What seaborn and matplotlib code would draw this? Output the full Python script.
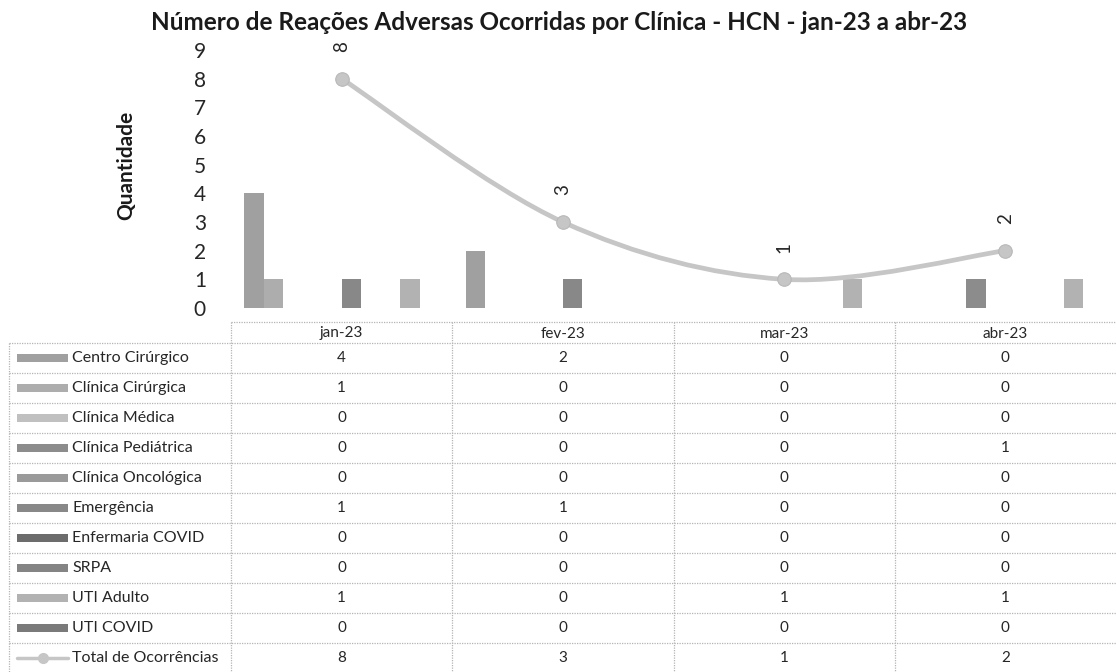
import numpy as np
import pandas as pd
import matplotlib
matplotlib.use("Agg")
import matplotlib.pyplot as plt
from matplotlib.path import Path
from matplotlib.patches import PathPatch, Rectangle
from matplotlib.lines import Line2D
import seaborn as sns

meses = ["jan-23", "fev-23", "mar-23", "abr-23"]
clinicas = ["Centro Cirúrgico", "Clínica Cirúrgica", "Clínica Médica",
            "Clínica Pediátrica", "Clínica Oncológica", "Emergência",
            "Enfermaria COVID", "SRPA", "UTI Adulto", "UTI COVID"]
centro_cirurgico = [4, 2, 0, 0]
clinica_cirurgica = [1, 0, 0, 0]
clinica_medica = [0, 0, 0, 0]
clinica_pediatrica = [0, 0, 0, 1]
clinica_oncologica = [0, 0, 0, 0]
emergencia = [1, 1, 0, 0]
enfermaria_covid = [0, 0, 0, 0]
srpa = [0, 0, 0, 0]
uti_adulto = [1, 0, 1, 1]
uti_covid = [0, 0, 0, 0]
total = [8, 3, 1, 2]
total_label = "Total de Ocorrências"

series = [centro_cirurgico, clinica_cirurgica, clinica_medica, clinica_pediatrica,
          clinica_oncologica, emergencia, enfermaria_covid, srpa, uti_adulto, uti_covid]

# grey shades of the scanned original
cores = ["#a0a0a0", "#adadad", "#c0c0c0", "#8c8c8c", "#9a9a9a",
         "#888888", "#6c6c6c", "#848484", "#b2b2b2", "#7a7a7a"]
cor_total = "#c6c6c6"
cor_borda = "#b4b4b4"
texto = "#262626"

sns.set_theme(style="white")
plt.rcParams["font.family"] = ["Lato", "DejaVu Sans"]

W, H = 1116, 672
fig = plt.figure(figsize=(W / 100, H / 100), dpi=100)

# layout in pixels
x_tab0 = 9          # left edge of the legend column
x_col0 = 231        # first month column
col_w = (W - x_col0) / len(meses)
y_head = 322        # top of header row
y_row0 = 343        # top of first data row
row_h = 30
y_zero, y_top = 308, 50

ax = fig.add_axes([x_col0 / W, 1 - y_zero / H, (W - x_col0) / W, (y_zero - y_top) / H])

df = pd.DataFrame({"mes": np.repeat(meses, len(clinicas)),
                   "clinica": clinicas * len(meses),
                   "valor": np.array(series).T.ravel()})
sns.barplot(data=df, x="mes", y="valor", hue="clinica", hue_order=clinicas,
            order=meses, palette=cores, width=0.88, gap=0, linewidth=0,
            legend=False, ax=ax, zorder=2)

# smoothed total line (bezier through the monthly totals)
xs = np.arange(len(meses), dtype=float)
pts = np.column_stack([xs, np.array(total, dtype=float)])
ext = np.vstack([pts[0], pts, pts[-1]])
verts, codes = [pts[0]], [Path.MOVETO]
for i in range(len(pts) - 1):
    p0, p1, p2, p3 = ext[i], ext[i + 1], ext[i + 2], ext[i + 3]
    verts += [p1 + (p2 - p0) / 6, p2 - (p3 - p1) / 6, p2]
    codes += [Path.CURVE4] * 3
ax.add_patch(PathPatch(Path(verts, codes), facecolor="none", edgecolor=cor_total,
                       lw=3.4, capstyle="round", zorder=3))
sns.scatterplot(x=xs, y=total, s=95, color=cor_total, edgecolor="#b8b8b8",
                linewidth=0.8, ax=ax, zorder=4, legend=False)
for x, v in zip(xs, total):
    ax.annotate(str(v), (x, v), xytext=(0, 23), textcoords="offset points",
                rotation=90, ha="center", va="center", fontsize=13.5, color=texto)

ax.set_xlim(-0.5, len(meses) - 0.5)
ax.set_ylim(0, 9)
ax.set_yticks(range(0, 10))
ax.tick_params(axis="y", labelsize=15, length=0, pad=18, labelcolor=texto)
ax.set_xticks([])
ax.set_xlabel("")
ax.set_ylabel("")
for s in ax.spines.values():
    s.set_visible(False)
ax.patch.set_alpha(0)

fig.text(559 / W, 1 - 23 / H, "Número de Reações Adversas Ocorridas por Clínica - HCN - jan-23 a abr-23",
         ha="center", va="center", fontsize=17.5, fontweight="bold", color="#1a1a1a")
fig.text(126 / W, 1 - 165 / H, "Quantidade", rotation=90, ha="center", va="center",
         fontsize=15, fontweight="bold", color="#1a1a1a")

# ---- data table below the plot ----
tab = fig.add_axes([0, 0, 1, 1], zorder=-1)
tab.set_xlim(0, W)
tab.set_ylim(H, 0)
tab.axis("off")
dot = dict(color=cor_borda, lw=0.9, linestyle=(0, (1, 1)))

n_rows = len(clinicas) + 1
y_bottom = y_row0 + n_rows * row_h
col_edges = [x_col0 + k * col_w for k in range(len(meses) + 1)]
tab.hlines(y_head, x_col0, W, **dot)
tab.hlines([y_row0 + k * row_h for k in range(n_rows + 1)], x_tab0, W, **dot)
tab.vlines(col_edges[:-1], y_head, y_bottom, **dot)
tab.vlines(x_tab0, y_row0, y_bottom, **dot)

for j, m in enumerate(meses):
    tab.text(x_col0 + (j + 0.5) * col_w, (y_head + y_row0) / 2 + 1, m,
             ha="center", va="center", fontsize=11, color=texto)

linhas = list(zip(clinicas, series, cores)) + [(total_label, total, None)]
for i, (nome, vals, cor) in enumerate(linhas):
    yc = y_row0 + (i + 0.5) * row_h
    if cor is not None:
        tab.add_patch(Rectangle((17, yc - 4), 51, 8, facecolor=cor, edgecolor="none"))
    else:
        tab.add_line(Line2D([17, 68], [yc, yc], color=cor_total, lw=2.5))
        tab.plot([42.5], [yc], marker="o", ms=7, color=cor_total)
    tab.text(72, yc, nome, ha="left", va="center", fontsize=11.5, color=texto)
    for j, v in enumerate(vals):
        tab.text(x_col0 + (j + 0.5) * col_w, yc, str(v), ha="center", va="center",
                 fontsize=11, color=texto)

fig.savefig("out.png", dpi=100)
